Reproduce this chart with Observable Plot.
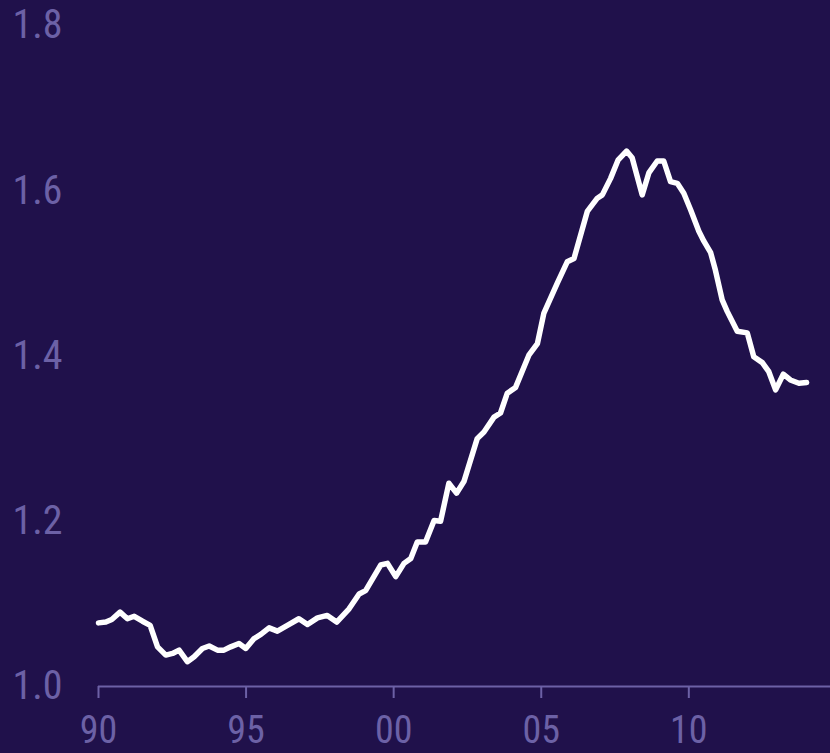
<!DOCTYPE html>
<html>
<head>
<meta charset="utf-8">
<script src="https://cdn.jsdelivr.net/npm/d3@7"></script>
<script src="https://cdn.jsdelivr.net/npm/@observablehq/plot@0.6"></script>
<style>
  html, body { margin: 0; padding: 0; background: #20114b; }
  #chart svg { display: block; }
</style>
</head>
<body>
<div id="chart"></div>
<script>
// Index level over time (decimal years)
const years = [
  1990.00, 1990.25, 1990.45, 1990.73, 1990.98, 1991.21, 1991.49, 1991.75,
  1992.00, 1992.28, 1992.51, 1992.73, 1993.01, 1993.24, 1993.52, 1993.75,
  1994.03, 1994.25, 1994.48, 1994.76, 1994.99, 1995.27, 1995.50, 1995.78,
  1996.06, 1996.40, 1996.79, 1997.08, 1997.42, 1997.75, 1998.07, 1998.49,
  1998.83, 1999.05, 1999.56, 1999.79, 2000.07, 2000.35, 2000.58, 2000.80,
  2001.08, 2001.37, 2001.59, 2001.87, 2002.13, 2002.38, 2002.83, 2003.06,
  2003.40, 2003.62, 2003.85, 2004.13, 2004.58, 2004.87, 2005.09, 2005.54,
  2005.88, 2006.11, 2006.56, 2006.90, 2007.07, 2007.35, 2007.60, 2007.89,
  2008.08, 2008.42, 2008.65, 2008.93, 2009.15, 2009.38, 2009.61, 2009.83,
  2010.06, 2010.34, 2010.51, 2010.74, 2010.90, 2011.13, 2011.30, 2011.64,
  2011.98, 2012.20, 2012.49, 2012.71, 2012.94, 2013.20, 2013.44, 2013.73,
  2013.99
];
const values = [
  1.077, 1.078, 1.081, 1.090, 1.082, 1.085, 1.079, 1.074,
  1.048, 1.038, 1.040, 1.044, 1.030, 1.036, 1.046, 1.049,
  1.044, 1.044, 1.048, 1.052, 1.046, 1.058, 1.063, 1.071,
  1.067, 1.074, 1.082, 1.075, 1.083, 1.086, 1.078, 1.094,
  1.112, 1.116, 1.147, 1.149, 1.133, 1.149, 1.155, 1.175,
  1.175, 1.201, 1.200, 1.246, 1.234, 1.248, 1.300, 1.308,
  1.326, 1.331, 1.355, 1.362, 1.401, 1.415, 1.452, 1.488,
  1.514, 1.518, 1.575, 1.591, 1.595, 1.615, 1.637, 1.648,
  1.640, 1.595, 1.622, 1.636, 1.636, 1.611, 1.609, 1.597,
  1.577, 1.551, 1.539, 1.525, 1.504, 1.468, 1.454, 1.430,
  1.428, 1.399, 1.392, 1.381, 1.359, 1.378, 1.371, 1.367,
  1.368
];

const xTicks = [1990, 1995, 2000, 2005, 2010];
const xTickLabels = ["90", "95", "00", "05", "10"];
const yTicks = [1.0, 1.2, 1.4, 1.6, 1.8];
const yTickLabels = ["1.0", "1.2", "1.4", "1.6", "1.8"];

const series = years.map((t, i) => ({t, v: values[i]}));

const bg = "#20114b";
const axisColor = "#6c61a6";

const chart = Plot.plot({
  width: 830,
  height: 753,
  marginTop: 25,
  marginBottom: 67,
  marginLeft: 98,
  marginRight: 0,
  style: {
    background: bg,
    color: axisColor,
    fontFamily: "'Liberation Sans Narrow', 'Roboto Condensed', 'DejaVu Sans Condensed', sans-serif",
    fontSize: "40px",
    overflow: "visible"
  },
  x: {type: "linear", domain: [1990, 2014.8]},
  y: {domain: [1, 1.8]},
  marks: [
    Plot.ruleY([1], {stroke: axisColor, strokeWidth: 2}),
    Plot.axisX({
      ticks: xTicks,
      tickFormat: d => xTickLabels[xTicks.indexOf(d)],
      tickSize: 12,
      tickPadding: 18,
      fontSize: 38,
      stroke: axisColor,
      strokeWidth: 2,
      strokeOpacity: 1,
      fill: axisColor,
      label: null
    }),
    Plot.axisY({
      ticks: yTicks,
      tickFormat: d => yTickLabels[yTicks.indexOf(d)],
      tickSize: 0,
      tickPadding: 86,
      textAnchor: "start",
      fill: axisColor,
      label: null
    }),
    Plot.line(series, {x: "t", y: "v", stroke: "white", strokeWidth: 5.5})
  ]
});

document.getElementById("chart").appendChild(chart);
</script>
</body>
</html>
